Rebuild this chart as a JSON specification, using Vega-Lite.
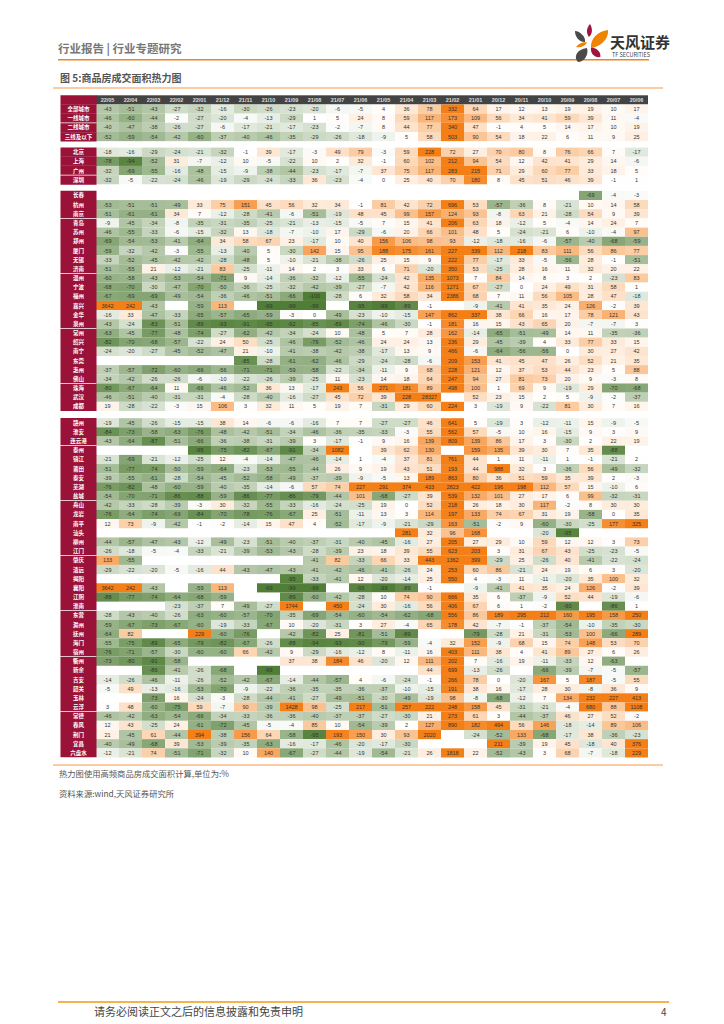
{"$schema":"https://vega.github.io/schema/vega-lite/v6.json","padding":{"left":52,"top":0,"right":0,"bottom":0},"background":"white","spacing":5.3,"config":{"view":{"stroke":null},"axis":{"title":null},"text":{"font":"Noto Sans CJK SC"},"point":{"filled":true,"opacity":1,"strokeWidth":0}},"datasets":{"months":[{"month":"22/05"},{"month":"22/04"},{"month":"22/03"},{"month":"22/02"},{"month":"22/01"},{"month":"21/12"},{"month":"21/11"},{"month":"21/10"},{"month":"21/09"},{"month":"21/08"},{"month":"21/07"},{"month":"21/06"},{"month":"21/05"},{"month":"21/04"},{"month":"21/03"},{"month":"21/02"},{"month":"21/01"},{"month":"20/12"},{"month":"20/11"},{"month":"20/10"},{"month":"20/09"},{"month":"20/08"},{"month":"20/07"},{"month":"20/06"}],
"g1":[
{"city":"全部城市","month":"22/05","value":-43},{"city":"全部城市","month":"22/04","value":-51},{"city":"全部城市","month":"22/03","value":-43},{"city":"全部城市","month":"22/02","value":-27},{"city":"全部城市","month":"22/01","value":-32},{"city":"全部城市","month":"21/12","value":-16},{"city":"全部城市","month":"21/11","value":-30},{"city":"全部城市","month":"21/10","value":-26},{"city":"全部城市","month":"21/09","value":-23},{"city":"全部城市","month":"21/08","value":-20},{"city":"全部城市","month":"21/07","value":-6},{"city":"全部城市","month":"21/06","value":-5},{"city":"全部城市","month":"21/05","value":4},{"city":"全部城市","month":"21/04","value":36},{"city":"全部城市","month":"21/03","value":78},{"city":"全部城市","month":"21/02","value":332},{"city":"全部城市","month":"21/01","value":64},{"city":"全部城市","month":"20/12","value":17},{"city":"全部城市","month":"20/11","value":12},{"city":"全部城市","month":"20/10","value":13},{"city":"全部城市","month":"20/09","value":19},{"city":"全部城市","month":"20/08","value":19},{"city":"全部城市","month":"20/07","value":10},{"city":"全部城市","month":"20/06","value":17},
{"city":"一线城市","month":"22/05","value":-46},{"city":"一线城市","month":"22/04","value":-60},{"city":"一线城市","month":"22/03","value":-44},{"city":"一线城市","month":"22/02","value":-2},{"city":"一线城市","month":"22/01","value":-27},{"city":"一线城市","month":"21/12","value":-20},{"city":"一线城市","month":"21/11","value":-4},{"city":"一线城市","month":"21/10","value":-13},{"city":"一线城市","month":"21/09","value":-29},{"city":"一线城市","month":"21/08","value":1},{"city":"一线城市","month":"21/07","value":5},{"city":"一线城市","month":"21/06","value":24},{"city":"一线城市","month":"21/05","value":8},{"city":"一线城市","month":"21/04","value":59},{"city":"一线城市","month":"21/03","value":117},{"city":"一线城市","month":"21/02","value":173},{"city":"一线城市","month":"21/01","value":109},{"city":"一线城市","month":"20/12","value":56},{"city":"一线城市","month":"20/11","value":34},{"city":"一线城市","month":"20/10","value":41},{"city":"一线城市","month":"20/09","value":59},{"city":"一线城市","month":"20/08","value":39},{"city":"一线城市","month":"20/07","value":11},{"city":"一线城市","month":"20/06","value":-4},
{"city":"二线城市","month":"22/05","value":-40},{"city":"二线城市","month":"22/04","value":-47},{"city":"二线城市","month":"22/03","value":-38},{"city":"二线城市","month":"22/02","value":-26},{"city":"二线城市","month":"22/01","value":-27},{"city":"二线城市","month":"21/12","value":-6},{"city":"二线城市","month":"21/11","value":-17},{"city":"二线城市","month":"21/10","value":-21},{"city":"二线城市","month":"21/09","value":-17},{"city":"二线城市","month":"21/08","value":-23},{"city":"二线城市","month":"21/07","value":-2},{"city":"二线城市","month":"21/06","value":-7},{"city":"二线城市","month":"21/05","value":8},{"city":"二线城市","month":"21/04","value":44},{"city":"二线城市","month":"21/03","value":77},{"city":"二线城市","month":"21/02","value":340},{"city":"二线城市","month":"21/01","value":47},{"city":"二线城市","month":"20/12","value":-1},{"city":"二线城市","month":"20/11","value":4},{"city":"二线城市","month":"20/10","value":5},{"city":"二线城市","month":"20/09","value":14},{"city":"二线城市","month":"20/08","value":17},{"city":"二线城市","month":"20/07","value":10},{"city":"二线城市","month":"20/06","value":19},
{"city":"三线及以下","month":"22/05","value":-52},{"city":"三线及以下","month":"22/04","value":-59},{"city":"三线及以下","month":"22/03","value":-54},{"city":"三线及以下","month":"22/02","value":-42},{"city":"三线及以下","month":"22/01","value":-60},{"city":"三线及以下","month":"21/12","value":-37},{"city":"三线及以下","month":"21/11","value":-40},{"city":"三线及以下","month":"21/10","value":-46},{"city":"三线及以下","month":"21/09","value":-35},{"city":"三线及以下","month":"21/08","value":-29},{"city":"三线及以下","month":"21/07","value":-26},{"city":"三线及以下","month":"21/06","value":-18},{"city":"三线及以下","month":"21/05","value":-9},{"city":"三线及以下","month":"21/04","value":5},{"city":"三线及以下","month":"21/03","value":58},{"city":"三线及以下","month":"21/02","value":503},{"city":"三线及以下","month":"21/01","value":90},{"city":"三线及以下","month":"20/12","value":54},{"city":"三线及以下","month":"20/11","value":18},{"city":"三线及以下","month":"20/10","value":22},{"city":"三线及以下","month":"20/09","value":6},{"city":"三线及以下","month":"20/08","value":11},{"city":"三线及以下","month":"20/07","value":9},{"city":"三线及以下","month":"20/06","value":25}],
"g2":[
{"city":"北京","month":"22/05","value":-18},{"city":"北京","month":"22/04","value":-16},{"city":"北京","month":"22/03","value":-29},{"city":"北京","month":"22/02","value":-24},{"city":"北京","month":"22/01","value":-21},{"city":"北京","month":"21/12","value":-32},{"city":"北京","month":"21/11","value":-1},{"city":"北京","month":"21/10","value":39},{"city":"北京","month":"21/09","value":-17},{"city":"北京","month":"21/08","value":-3},{"city":"北京","month":"21/07","value":49},{"city":"北京","month":"21/06","value":79},{"city":"北京","month":"21/05","value":-3},{"city":"北京","month":"21/04","value":59},{"city":"北京","month":"21/03","value":228},{"city":"北京","month":"21/02","value":72},{"city":"北京","month":"21/01","value":27},{"city":"北京","month":"20/12","value":70},{"city":"北京","month":"20/11","value":80},{"city":"北京","month":"20/10","value":8},{"city":"北京","month":"20/09","value":76},{"city":"北京","month":"20/08","value":66},{"city":"北京","month":"20/07","value":7},{"city":"北京","month":"20/06","value":-17},
{"city":"上海","month":"22/05","value":-78},{"city":"上海","month":"22/04","value":-94},{"city":"上海","month":"22/03","value":-52},{"city":"上海","month":"22/02","value":31},{"city":"上海","month":"22/01","value":-7},{"city":"上海","month":"21/12","value":-12},{"city":"上海","month":"21/11","value":10},{"city":"上海","month":"21/10","value":-5},{"city":"上海","month":"21/09","value":-22},{"city":"上海","month":"21/08","value":10},{"city":"上海","month":"21/07","value":2},{"city":"上海","month":"21/06","value":32},{"city":"上海","month":"21/05","value":-1},{"city":"上海","month":"21/04","value":60},{"city":"上海","month":"21/03","value":102},{"city":"上海","month":"21/02","value":212},{"city":"上海","month":"21/01","value":94},{"city":"上海","month":"20/12","value":54},{"city":"上海","month":"20/11","value":12},{"city":"上海","month":"20/10","value":42},{"city":"上海","month":"20/09","value":41},{"city":"上海","month":"20/08","value":29},{"city":"上海","month":"20/07","value":14},{"city":"上海","month":"20/06","value":-6},
{"city":"广州","month":"22/05","value":-32},{"city":"广州","month":"22/04","value":-69},{"city":"广州","month":"22/03","value":-55},{"city":"广州","month":"22/02","value":-16},{"city":"广州","month":"22/01","value":-48},{"city":"广州","month":"21/12","value":-15},{"city":"广州","month":"21/11","value":-9},{"city":"广州","month":"21/10","value":-38},{"city":"广州","month":"21/09","value":-44},{"city":"广州","month":"21/08","value":-23},{"city":"广州","month":"21/07","value":-17},{"city":"广州","month":"21/06","value":-7},{"city":"广州","month":"21/05","value":37},{"city":"广州","month":"21/04","value":75},{"city":"广州","month":"21/03","value":117},{"city":"广州","month":"21/02","value":283},{"city":"广州","month":"21/01","value":215},{"city":"广州","month":"20/12","value":71},{"city":"广州","month":"20/11","value":29},{"city":"广州","month":"20/10","value":60},{"city":"广州","month":"20/09","value":77},{"city":"广州","month":"20/08","value":33},{"city":"广州","month":"20/07","value":18},{"city":"广州","month":"20/06","value":5},
{"city":"深圳","month":"22/05","value":-32},{"city":"深圳","month":"22/04","value":-5},{"city":"深圳","month":"22/03","value":-22},{"city":"深圳","month":"22/02","value":-24},{"city":"深圳","month":"22/01","value":-46},{"city":"深圳","month":"21/12","value":-19},{"city":"深圳","month":"21/11","value":-29},{"city":"深圳","month":"21/10","value":-24},{"city":"深圳","month":"21/09","value":-33},{"city":"深圳","month":"21/08","value":36},{"city":"深圳","month":"21/07","value":-23},{"city":"深圳","month":"21/06","value":-4},{"city":"深圳","month":"21/05","value":0},{"city":"深圳","month":"21/04","value":25},{"city":"深圳","month":"21/03","value":40},{"city":"深圳","month":"21/02","value":70},{"city":"深圳","month":"21/01","value":180},{"city":"深圳","month":"20/12","value":8},{"city":"深圳","month":"20/11","value":45},{"city":"深圳","month":"20/10","value":51},{"city":"深圳","month":"20/09","value":46},{"city":"深圳","month":"20/08","value":39},{"city":"深圳","month":"20/07","value":-1},{"city":"深圳","month":"20/06","value":1}],
"g3":[
{"city":"长春","month":"20/08","value":-69},{"city":"长春","month":"20/07","value":-4},{"city":"长春","month":"20/06","value":-3},
{"city":"杭州","month":"22/05","value":-53},{"city":"杭州","month":"22/04","value":-51},{"city":"杭州","month":"22/03","value":-51},{"city":"杭州","month":"22/02","value":-49},{"city":"杭州","month":"22/01","value":33},{"city":"杭州","month":"21/12","value":75},{"city":"杭州","month":"21/11","value":151},{"city":"杭州","month":"21/10","value":45},{"city":"杭州","month":"21/09","value":56},{"city":"杭州","month":"21/08","value":32},{"city":"杭州","month":"21/07","value":34},{"city":"杭州","month":"21/06","value":-1},{"city":"杭州","month":"21/05","value":81},{"city":"杭州","month":"21/04","value":42},{"city":"杭州","month":"21/03","value":72},{"city":"杭州","month":"21/02","value":696},{"city":"杭州","month":"21/01","value":53},{"city":"杭州","month":"20/12","value":-57},{"city":"杭州","month":"20/11","value":-36},{"city":"杭州","month":"20/10","value":8},{"city":"杭州","month":"20/09","value":-21},{"city":"杭州","month":"20/08","value":10},{"city":"杭州","month":"20/07","value":14},{"city":"杭州","month":"20/06","value":58},
{"city":"南京","month":"22/05","value":-51},{"city":"南京","month":"22/04","value":-61},{"city":"南京","month":"22/03","value":-61},{"city":"南京","month":"22/02","value":34},{"city":"南京","month":"22/01","value":7},{"city":"南京","month":"21/12","value":-12},{"city":"南京","month":"21/11","value":-28},{"city":"南京","month":"21/10","value":-41},{"city":"南京","month":"21/09","value":-6},{"city":"南京","month":"21/08","value":-51},{"city":"南京","month":"21/07","value":-19},{"city":"南京","month":"21/06","value":48},{"city":"南京","month":"21/05","value":45},{"city":"南京","month":"21/04","value":99},{"city":"南京","month":"21/03","value":157},{"city":"南京","month":"21/02","value":124},{"city":"南京","month":"21/01","value":93},{"city":"南京","month":"20/12","value":-8},{"city":"南京","month":"20/11","value":63},{"city":"南京","month":"20/10","value":21},{"city":"南京","month":"20/09","value":-28},{"city":"南京","month":"20/08","value":54},{"city":"南京","month":"20/07","value":9},{"city":"南京","month":"20/06","value":39},
{"city":"青岛","month":"22/05","value":-9},{"city":"青岛","month":"22/04","value":-45},{"city":"青岛","month":"22/03","value":-34},{"city":"青岛","month":"22/02","value":-8},{"city":"青岛","month":"22/01","value":-35},{"city":"青岛","month":"21/12","value":-31},{"city":"青岛","month":"21/11","value":-35},{"city":"青岛","month":"21/10","value":-25},{"city":"青岛","month":"21/09","value":-21},{"city":"青岛","month":"21/08","value":-13},{"city":"青岛","month":"21/07","value":-15},{"city":"青岛","month":"21/06","value":-5},{"city":"青岛","month":"21/05","value":7},{"city":"青岛","month":"21/04","value":15},{"city":"青岛","month":"21/03","value":41},{"city":"青岛","month":"21/02","value":206},{"city":"青岛","month":"21/01","value":63},{"city":"青岛","month":"20/12","value":18},{"city":"青岛","month":"20/11","value":-12},{"city":"青岛","month":"20/10","value":5},{"city":"青岛","month":"20/09","value":-4},{"city":"青岛","month":"20/08","value":14},{"city":"青岛","month":"20/07","value":24},{"city":"青岛","month":"20/06","value":7},
{"city":"苏州","month":"22/05","value":-46},{"city":"苏州","month":"22/04","value":-55},{"city":"苏州","month":"22/03","value":-33},{"city":"苏州","month":"22/02","value":-6},{"city":"苏州","month":"22/01","value":-15},{"city":"苏州","month":"21/12","value":-32},{"city":"苏州","month":"21/11","value":13},{"city":"苏州","month":"21/10","value":-18},{"city":"苏州","month":"21/09","value":-7},{"city":"苏州","month":"21/08","value":-10},{"city":"苏州","month":"21/07","value":17},{"city":"苏州","month":"21/06","value":-29},{"city":"苏州","month":"21/05","value":-6},{"city":"苏州","month":"21/04","value":20},{"city":"苏州","month":"21/03","value":66},{"city":"苏州","month":"21/02","value":101},{"city":"苏州","month":"21/01","value":48},{"city":"苏州","month":"20/12","value":5},{"city":"苏州","month":"20/11","value":-24},{"city":"苏州","month":"20/10","value":-21},{"city":"苏州","month":"20/09","value":6},{"city":"苏州","month":"20/08","value":-10},{"city":"苏州","month":"20/07","value":-4},{"city":"苏州","month":"20/06","value":97},
{"city":"郑州","month":"22/05","value":-69},{"city":"郑州","month":"22/04","value":-54},{"city":"郑州","month":"22/03","value":-53},{"city":"郑州","month":"22/02","value":-41},{"city":"郑州","month":"22/01","value":-64},{"city":"郑州","month":"21/12","value":34},{"city":"郑州","month":"21/11","value":58},{"city":"郑州","month":"21/10","value":67},{"city":"郑州","month":"21/09","value":23},{"city":"郑州","month":"21/08","value":-17},{"city":"郑州","month":"21/07","value":10},{"city":"郑州","month":"21/06","value":40},{"city":"郑州","month":"21/05","value":156},{"city":"郑州","month":"21/04","value":106},{"city":"郑州","month":"21/03","value":98},{"city":"郑州","month":"21/02","value":93},{"city":"郑州","month":"21/01","value":-12},{"city":"郑州","month":"20/12","value":-18},{"city":"郑州","month":"20/11","value":-16},{"city":"郑州","month":"20/10","value":-6},{"city":"郑州","month":"20/09","value":-57},{"city":"郑州","month":"20/08","value":-40},{"city":"郑州","month":"20/07","value":-68},{"city":"郑州","month":"20/06","value":-59},
{"city":"厦门","month":"22/05","value":-59},{"city":"厦门","month":"22/04","value":-32},{"city":"厦门","month":"22/03","value":-42},{"city":"厦门","month":"22/02","value":-3},{"city":"厦门","month":"22/01","value":-55},{"city":"厦门","month":"21/12","value":-13},{"city":"厦门","month":"21/11","value":-40},{"city":"厦门","month":"21/10","value":5},{"city":"厦门","month":"21/09","value":-30},{"city":"厦门","month":"21/08","value":142},{"city":"厦门","month":"21/07","value":15},{"city":"厦门","month":"21/06","value":95},{"city":"厦门","month":"21/05","value":188},{"city":"厦门","month":"21/04","value":175},{"city":"厦门","month":"21/03","value":161},{"city":"厦门","month":"21/02","value":227},{"city":"厦门","month":"21/01","value":339},{"city":"厦门","month":"20/12","value":112},{"city":"厦门","month":"20/11","value":218},{"city":"厦门","month":"20/10","value":83},{"city":"厦门","month":"20/09","value":111},{"city":"厦门","month":"20/08","value":56},{"city":"厦门","month":"20/07","value":86},{"city":"厦门","month":"20/06","value":77},
{"city":"无锡","month":"22/05","value":-33},{"city":"无锡","month":"22/04","value":-52},{"city":"无锡","month":"22/03","value":-45},{"city":"无锡","month":"22/02","value":-42},{"city":"无锡","month":"22/01","value":-42},{"city":"无锡","month":"21/12","value":-28},{"city":"无锡","month":"21/11","value":-48},{"city":"无锡","month":"21/10","value":5},{"city":"无锡","month":"21/09","value":-10},{"city":"无锡","month":"21/08","value":-21},{"city":"无锡","month":"21/07","value":-38},{"city":"无锡","month":"21/06","value":-26},{"city":"无锡","month":"21/05","value":25},{"city":"无锡","month":"21/04","value":15},{"city":"无锡","month":"21/03","value":9},{"city":"无锡","month":"21/02","value":222},{"city":"无锡","month":"21/01","value":77},{"city":"无锡","month":"20/12","value":-17},{"city":"无锡","month":"20/11","value":33},{"city":"无锡","month":"20/10","value":-5},{"city":"无锡","month":"20/09","value":-56},{"city":"无锡","month":"20/08","value":28},{"city":"无锡","month":"20/07","value":-1},{"city":"无锡","month":"20/06","value":-51},
{"city":"济南","month":"22/05","value":-51},{"city":"济南","month":"22/04","value":-55},{"city":"济南","month":"22/03","value":21},{"city":"济南","month":"22/02","value":-12},{"city":"济南","month":"22/01","value":-21},{"city":"济南","month":"21/12","value":83},{"city":"济南","month":"21/11","value":-25},{"city":"济南","month":"21/10","value":-11},{"city":"济南","month":"21/09","value":14},{"city":"济南","month":"21/08","value":2},{"city":"济南","month":"21/07","value":3},{"city":"济南","month":"21/06","value":33},{"city":"济南","month":"21/05","value":6},{"city":"济南","month":"21/04","value":71},{"city":"济南","month":"21/03","value":-20},{"city":"济南","month":"21/02","value":350},{"city":"济南","month":"21/01","value":53},{"city":"济南","month":"20/12","value":-25},{"city":"济南","month":"20/11","value":28},{"city":"济南","month":"20/10","value":16},{"city":"济南","month":"20/09","value":11},{"city":"济南","month":"20/08","value":32},{"city":"济南","month":"20/07","value":20},{"city":"济南","month":"20/06","value":22},
{"city":"温州","month":"22/05","value":-60},{"city":"温州","month":"22/04","value":-58},{"city":"温州","month":"22/03","value":-43},{"city":"温州","month":"22/02","value":-53},{"city":"温州","month":"22/01","value":-54},{"city":"温州","month":"21/12","value":-71},{"city":"温州","month":"21/11","value":9},{"city":"温州","month":"21/10","value":-14},{"city":"温州","month":"21/09","value":-36},{"city":"温州","month":"21/08","value":-32},{"city":"温州","month":"21/07","value":-12},{"city":"温州","month":"21/06","value":-55},{"city":"温州","month":"21/05","value":-24},{"city":"温州","month":"21/04","value":42},{"city":"温州","month":"21/03","value":135},{"city":"温州","month":"21/02","value":1073},{"city":"温州","month":"21/01","value":7},{"city":"温州","month":"20/12","value":84},{"city":"温州","month":"20/11","value":14},{"city":"温州","month":"20/10","value":8},{"city":"温州","month":"20/09","value":3},{"city":"温州","month":"20/08","value":2},{"city":"温州","month":"20/07","value":-23},{"city":"温州","month":"20/06","value":83},
{"city":"宁波","month":"22/05","value":-68},{"city":"宁波","month":"22/04","value":-70},{"city":"宁波","month":"22/03","value":-30},{"city":"宁波","month":"22/02","value":-47},{"city":"宁波","month":"22/01","value":-70},{"city":"宁波","month":"21/12","value":-50},{"city":"宁波","month":"21/11","value":-36},{"city":"宁波","month":"21/10","value":-25},{"city":"宁波","month":"21/09","value":-32},{"city":"宁波","month":"21/08","value":-42},{"city":"宁波","month":"21/07","value":-39},{"city":"宁波","month":"21/06","value":-27},{"city":"宁波","month":"21/05","value":-7},{"city":"宁波","month":"21/04","value":42},{"city":"宁波","month":"21/03","value":116},{"city":"宁波","month":"21/02","value":1271},{"city":"宁波","month":"21/01","value":67},{"city":"宁波","month":"20/12","value":-27},{"city":"宁波","month":"20/11","value":0},{"city":"宁波","month":"20/10","value":24},{"city":"宁波","month":"20/09","value":49},{"city":"宁波","month":"20/08","value":31},{"city":"宁波","month":"20/07","value":58},{"city":"宁波","month":"20/06","value":1},
{"city":"福州","month":"22/05","value":-67},{"city":"福州","month":"22/04","value":-69},{"city":"福州","month":"22/03","value":-69},{"city":"福州","month":"22/02","value":-49},{"city":"福州","month":"22/01","value":-54},{"city":"福州","month":"21/12","value":-36},{"city":"福州","month":"21/11","value":-46},{"city":"福州","month":"21/10","value":-51},{"city":"福州","month":"21/09","value":-66},{"city":"福州","month":"21/08","value":-100},{"city":"福州","month":"21/07","value":-28},{"city":"福州","month":"21/06","value":6},{"city":"福州","month":"21/05","value":32},{"city":"福州","month":"21/04","value":58},{"city":"福州","month":"21/03","value":34},{"city":"福州","month":"21/02","value":2386},{"city":"福州","month":"21/01","value":68},{"city":"福州","month":"20/12","value":7},{"city":"福州","month":"20/11","value":11},{"city":"福州","month":"20/10","value":56},{"city":"福州","month":"20/09","value":105},{"city":"福州","month":"20/08","value":28},{"city":"福州","month":"20/07","value":47},{"city":"福州","month":"20/06","value":-18},
{"city":"嘉兴","month":"22/05","value":3642},{"city":"嘉兴","month":"22/04","value":242},{"city":"嘉兴","month":"22/03","value":-43},{"city":"嘉兴","month":"22/01","value":-59},{"city":"嘉兴","month":"21/12","value":113},{"city":"嘉兴","month":"21/10","value":-99},{"city":"嘉兴","month":"21/09","value":-99},{"city":"嘉兴","month":"21/08","value":-99},{"city":"嘉兴","month":"21/06","value":-95},{"city":"嘉兴","month":"21/05","value":-99},{"city":"嘉兴","month":"21/04","value":-89},{"city":"嘉兴","month":"21/03","value":-1},{"city":"嘉兴","month":"21/01","value":-9},{"city":"嘉兴","month":"20/12","value":-41},{"city":"嘉兴","month":"20/11","value":41},{"city":"嘉兴","month":"20/10","value":35},{"city":"嘉兴","month":"20/09","value":24},{"city":"嘉兴","month":"20/08","value":126},{"city":"嘉兴","month":"20/07","value":-2},{"city":"嘉兴","month":"20/06","value":39},
{"city":"金华","month":"22/05","value":-16},{"city":"金华","month":"22/04","value":33},{"city":"金华","month":"22/03","value":-47},{"city":"金华","month":"22/02","value":-33},{"city":"金华","month":"22/01","value":-65},{"city":"金华","month":"21/12","value":-57},{"city":"金华","month":"21/11","value":-65},{"city":"金华","month":"21/10","value":-59},{"city":"金华","month":"21/09","value":-3},{"city":"金华","month":"21/08","value":0},{"city":"金华","month":"21/07","value":-49},{"city":"金华","month":"21/06","value":-23},{"city":"金华","month":"21/05","value":-10},{"city":"金华","month":"21/04","value":-15},{"city":"金华","month":"21/03","value":147},{"city":"金华","month":"21/02","value":862},{"city":"金华","month":"21/01","value":337},{"city":"金华","month":"20/12","value":38},{"city":"金华","month":"20/11","value":66},{"city":"金华","month":"20/10","value":16},{"city":"金华","month":"20/09","value":17},{"city":"金华","month":"20/08","value":78},{"city":"金华","month":"20/07","value":121},{"city":"金华","month":"20/06","value":43},
{"city":"泉州","month":"22/05","value":-43},{"city":"泉州","month":"22/04","value":-24},{"city":"泉州","month":"22/03","value":-83},{"city":"泉州","month":"22/02","value":-51},{"city":"泉州","month":"22/01","value":-89},{"city":"泉州","month":"21/12","value":-93},{"city":"泉州","month":"21/11","value":-91},{"city":"泉州","month":"21/10","value":-95},{"city":"泉州","month":"21/09","value":-92},{"city":"泉州","month":"21/08","value":-85},{"city":"泉州","month":"21/07","value":-89},{"city":"泉州","month":"21/06","value":-74},{"city":"泉州","month":"21/05","value":-46},{"city":"泉州","month":"21/04","value":-30},{"city":"泉州","month":"21/03","value":-1},{"city":"泉州","month":"21/02","value":181},{"city":"泉州","month":"21/01","value":16},{"city":"泉州","month":"20/12","value":15},{"city":"泉州","month":"20/11","value":43},{"city":"泉州","month":"20/10","value":65},{"city":"泉州","month":"20/09","value":20},{"city":"泉州","month":"20/08","value":-7},{"city":"泉州","month":"20/07","value":-7},{"city":"泉州","month":"20/06","value":3},
{"city":"常州","month":"22/05","value":-63},{"city":"常州","month":"22/04","value":-45},{"city":"常州","month":"22/03","value":-77},{"city":"常州","month":"22/02","value":-48},{"city":"常州","month":"22/01","value":-74},{"city":"常州","month":"21/12","value":-27},{"city":"常州","month":"21/11","value":-62},{"city":"常州","month":"21/10","value":-42},{"city":"常州","month":"21/09","value":-34},{"city":"常州","month":"21/08","value":-24},{"city":"常州","month":"21/07","value":10},{"city":"常州","month":"21/06","value":-48},{"city":"常州","month":"21/05","value":5},{"city":"常州","month":"21/04","value":7},{"city":"常州","month":"21/03","value":28},{"city":"常州","month":"21/02","value":162},{"city":"常州","month":"21/01","value":-14},{"city":"常州","month":"20/12","value":-65},{"city":"常州","month":"20/11","value":-51},{"city":"常州","month":"20/10","value":-49},{"city":"常州","month":"20/09","value":14},{"city":"常州","month":"20/08","value":11},{"city":"常州","month":"20/07","value":-35},{"city":"常州","month":"20/06","value":-36},
{"city":"绍兴","month":"22/05","value":-82},{"city":"绍兴","month":"22/04","value":-70},{"city":"绍兴","month":"22/03","value":-68},{"city":"绍兴","month":"22/02","value":-57},{"city":"绍兴","month":"22/01","value":-22},{"city":"绍兴","month":"21/12","value":24},{"city":"绍兴","month":"21/11","value":50},{"city":"绍兴","month":"21/10","value":-25},{"city":"绍兴","month":"21/09","value":-46},{"city":"绍兴","month":"21/08","value":-76},{"city":"绍兴","month":"21/07","value":-52},{"city":"绍兴","month":"21/06","value":-46},{"city":"绍兴","month":"21/05","value":24},{"city":"绍兴","month":"21/04","value":24},{"city":"绍兴","month":"21/03","value":13},{"city":"绍兴","month":"21/02","value":236},{"city":"绍兴","month":"21/01","value":29},{"city":"绍兴","month":"20/12","value":-45},{"city":"绍兴","month":"20/11","value":-39},{"city":"绍兴","month":"20/10","value":4},{"city":"绍兴","month":"20/09","value":33},{"city":"绍兴","month":"20/08","value":77},{"city":"绍兴","month":"20/07","value":33},{"city":"绍兴","month":"20/06","value":15},
{"city":"南宁","month":"22/05","value":-24},{"city":"南宁","month":"22/04","value":-20},{"city":"南宁","month":"22/03","value":-27},{"city":"南宁","month":"22/02","value":-45},{"city":"南宁","month":"22/01","value":-52},{"city":"南宁","month":"21/12","value":-47},{"city":"南宁","month":"21/11","value":21},{"city":"南宁","month":"21/10","value":-10},{"city":"南宁","month":"21/09","value":-41},{"city":"南宁","month":"21/08","value":-38},{"city":"南宁","month":"21/07","value":-42},{"city":"南宁","month":"21/06","value":-38},{"city":"南宁","month":"21/05","value":-17},{"city":"南宁","month":"21/04","value":13},{"city":"南宁","month":"21/03","value":9},{"city":"南宁","month":"21/02","value":466},{"city":"南宁","month":"21/01","value":-6},{"city":"南宁","month":"20/12","value":-64},{"city":"南宁","month":"20/11","value":-56},{"city":"南宁","month":"20/10","value":-56},{"city":"南宁","month":"20/09","value":0},{"city":"南宁","month":"20/08","value":30},{"city":"南宁","month":"20/07","value":27},{"city":"南宁","month":"20/06","value":42},
{"city":"东莞","month":"21/11","value":-85},{"city":"东莞","month":"21/10","value":-28},{"city":"东莞","month":"21/09","value":-61},{"city":"东莞","month":"21/08","value":-62},{"city":"东莞","month":"21/07","value":-46},{"city":"东莞","month":"21/06","value":-29},{"city":"东莞","month":"21/05","value":-24},{"city":"东莞","month":"21/04","value":-28},{"city":"东莞","month":"21/03","value":-6},{"city":"东莞","month":"21/02","value":209},{"city":"东莞","month":"21/01","value":153},{"city":"东莞","month":"20/12","value":41},{"city":"东莞","month":"20/11","value":45},{"city":"东莞","month":"20/10","value":47},{"city":"东莞","month":"20/09","value":26},{"city":"东莞","month":"20/08","value":52},{"city":"东莞","month":"20/07","value":21},{"city":"东莞","month":"20/06","value":35},
{"city":"惠州","month":"22/05","value":-37},{"city":"惠州","month":"22/04","value":-57},{"city":"惠州","month":"22/03","value":-72},{"city":"惠州","month":"22/02","value":-60},{"city":"惠州","month":"22/01","value":-66},{"city":"惠州","month":"21/12","value":-56},{"city":"惠州","month":"21/11","value":-71},{"city":"惠州","month":"21/10","value":-71},{"city":"惠州","month":"21/09","value":-59},{"city":"惠州","month":"21/08","value":-58},{"city":"惠州","month":"21/07","value":-22},{"city":"惠州","month":"21/06","value":-34},{"city":"惠州","month":"21/05","value":-11},{"city":"惠州","month":"21/04","value":9},{"city":"惠州","month":"21/03","value":68},{"city":"惠州","month":"21/02","value":228},{"city":"惠州","month":"21/01","value":121},{"city":"惠州","month":"20/12","value":12},{"city":"惠州","month":"20/11","value":37},{"city":"惠州","month":"20/10","value":53},{"city":"惠州","month":"20/09","value":44},{"city":"惠州","month":"20/08","value":23},{"city":"惠州","month":"20/07","value":5},{"city":"惠州","month":"20/06","value":88},
{"city":"佛山","month":"22/05","value":-34},{"city":"佛山","month":"22/04","value":-42},{"city":"佛山","month":"22/03","value":-26},{"city":"佛山","month":"22/02","value":-26},{"city":"佛山","month":"22/01","value":-6},{"city":"佛山","month":"21/12","value":-10},{"city":"佛山","month":"21/11","value":-22},{"city":"佛山","month":"21/10","value":-26},{"city":"佛山","month":"21/09","value":-39},{"city":"佛山","month":"21/08","value":-25},{"city":"佛山","month":"21/07","value":11},{"city":"佛山","month":"21/06","value":-23},{"city":"佛山","month":"21/05","value":14},{"city":"佛山","month":"21/04","value":18},{"city":"佛山","month":"21/03","value":64},{"city":"佛山","month":"21/02","value":247},{"city":"佛山","month":"21/01","value":94},{"city":"佛山","month":"20/12","value":27},{"city":"佛山","month":"20/11","value":81},{"city":"佛山","month":"20/10","value":73},{"city":"佛山","month":"20/09","value":20},{"city":"佛山","month":"20/08","value":9},{"city":"佛山","month":"20/07","value":-3},{"city":"佛山","month":"20/06","value":8},
{"city":"珠海","month":"22/05","value":-80},{"city":"珠海","month":"22/04","value":-67},{"city":"珠海","month":"22/03","value":-64},{"city":"珠海","month":"22/02","value":11},{"city":"珠海","month":"22/01","value":-66},{"city":"珠海","month":"21/12","value":-46},{"city":"珠海","month":"21/11","value":-52},{"city":"珠海","month":"21/10","value":36},{"city":"珠海","month":"21/09","value":13},{"city":"珠海","month":"21/08","value":-17},{"city":"珠海","month":"21/07","value":243},{"city":"珠海","month":"21/06","value":56},{"city":"珠海","month":"21/05","value":271},{"city":"珠海","month":"21/04","value":181},{"city":"珠海","month":"21/03","value":89},{"city":"珠海","month":"21/02","value":498},{"city":"珠海","month":"21/01","value":100},{"city":"珠海","month":"20/12","value":1},{"city":"珠海","month":"20/11","value":69},{"city":"珠海","month":"20/10","value":9},{"city":"珠海","month":"20/09","value":-19},{"city":"珠海","month":"20/08","value":29},{"city":"珠海","month":"20/07","value":-70},{"city":"珠海","month":"20/06","value":-68},
{"city":"武汉","month":"22/05","value":-46},{"city":"武汉","month":"22/04","value":-51},{"city":"武汉","month":"22/03","value":-40},{"city":"武汉","month":"22/02","value":-31},{"city":"武汉","month":"22/01","value":-31},{"city":"武汉","month":"21/12","value":-4},{"city":"武汉","month":"21/11","value":-28},{"city":"武汉","month":"21/10","value":-40},{"city":"武汉","month":"21/09","value":-16},{"city":"武汉","month":"21/08","value":-27},{"city":"武汉","month":"21/07","value":45},{"city":"武汉","month":"21/06","value":72},{"city":"武汉","month":"21/05","value":39},{"city":"武汉","month":"21/04","value":228},{"city":"武汉","month":"21/03","value":28327},{"city":"武汉","month":"21/01","value":52},{"city":"武汉","month":"20/12","value":23},{"city":"武汉","month":"20/11","value":15},{"city":"武汉","month":"20/10","value":2},{"city":"武汉","month":"20/09","value":5},{"city":"武汉","month":"20/08","value":-9},{"city":"武汉","month":"20/07","value":-2},{"city":"武汉","month":"20/06","value":-37},
{"city":"成都","month":"22/05","value":19},{"city":"成都","month":"22/04","value":-28},{"city":"成都","month":"22/03","value":-22},{"city":"成都","month":"22/02","value":-3},{"city":"成都","month":"22/01","value":15},{"city":"成都","month":"21/12","value":106},{"city":"成都","month":"21/11","value":3},{"city":"成都","month":"21/10","value":32},{"city":"成都","month":"21/09","value":11},{"city":"成都","month":"21/08","value":5},{"city":"成都","month":"21/07","value":19},{"city":"成都","month":"21/06","value":7},{"city":"成都","month":"21/05","value":-31},{"city":"成都","month":"21/04","value":29},{"city":"成都","month":"21/03","value":60},{"city":"成都","month":"21/02","value":224},{"city":"成都","month":"21/01","value":3},{"city":"成都","month":"20/12","value":-19},{"city":"成都","month":"20/11","value":9},{"city":"成都","month":"20/10","value":-22},{"city":"成都","month":"20/09","value":81},{"city":"成都","month":"20/08","value":30},{"city":"成都","month":"20/07","value":7},{"city":"成都","month":"20/06","value":16}],
"g4":[
{"city":"赣州","month":"22/05","value":-19},{"city":"赣州","month":"22/04","value":-45},{"city":"赣州","month":"22/03","value":-26},{"city":"赣州","month":"22/02","value":-15},{"city":"赣州","month":"22/01","value":-15},{"city":"赣州","month":"21/12","value":38},{"city":"赣州","month":"21/11","value":14},{"city":"赣州","month":"21/10","value":-6},{"city":"赣州","month":"21/09","value":-6},{"city":"赣州","month":"21/08","value":-16},{"city":"赣州","month":"21/07","value":7},{"city":"赣州","month":"21/06","value":7},{"city":"赣州","month":"21/05","value":-27},{"city":"赣州","month":"21/04","value":-27},{"city":"赣州","month":"21/03","value":46},{"city":"赣州","month":"21/02","value":641},{"city":"赣州","month":"21/01","value":5},{"city":"赣州","month":"20/12","value":-19},{"city":"赣州","month":"20/11","value":3},{"city":"赣州","month":"20/10","value":-12},{"city":"赣州","month":"20/09","value":-11},{"city":"赣州","month":"20/08","value":15},{"city":"赣州","month":"20/07","value":-9},{"city":"赣州","month":"20/06","value":-5},
{"city":"淮安","month":"22/05","value":-84},{"city":"淮安","month":"22/04","value":-73},{"city":"淮安","month":"22/03","value":-58},{"city":"淮安","month":"22/02","value":-63},{"city":"淮安","month":"22/01","value":-76},{"city":"淮安","month":"21/12","value":-48},{"city":"淮安","month":"21/11","value":-42},{"city":"淮安","month":"21/10","value":-51},{"city":"淮安","month":"21/09","value":-34},{"city":"淮安","month":"21/08","value":-46},{"city":"淮安","month":"21/07","value":-36},{"city":"淮安","month":"21/06","value":-35},{"city":"淮安","month":"21/05","value":-33},{"city":"淮安","month":"21/04","value":-3},{"city":"淮安","month":"21/03","value":55},{"city":"淮安","month":"21/02","value":562},{"city":"淮安","month":"21/01","value":57},{"city":"淮安","month":"20/12","value":-5},{"city":"淮安","month":"20/11","value":10},{"city":"淮安","month":"20/10","value":16},{"city":"淮安","month":"20/09","value":-15},{"city":"淮安","month":"20/08","value":9},{"city":"淮安","month":"20/07","value":3},{"city":"淮安","month":"20/06","value":9},
{"city":"连云港","month":"22/05","value":-43},{"city":"连云港","month":"22/04","value":-64},{"city":"连云港","month":"22/03","value":-87},{"city":"连云港","month":"22/02","value":-51},{"city":"连云港","month":"22/01","value":-66},{"city":"连云港","month":"21/12","value":-36},{"city":"连云港","month":"21/11","value":-38},{"city":"连云港","month":"21/10","value":-31},{"city":"连云港","month":"21/09","value":-39},{"city":"连云港","month":"21/08","value":3},{"city":"连云港","month":"21/07","value":-17},{"city":"连云港","month":"21/06","value":-1},{"city":"连云港","month":"21/05","value":9},{"city":"连云港","month":"21/04","value":16},{"city":"连云港","month":"21/03","value":139},{"city":"连云港","month":"21/02","value":809},{"city":"连云港","month":"21/01","value":139},{"city":"连云港","month":"20/12","value":86},{"city":"连云港","month":"20/11","value":17},{"city":"连云港","month":"20/10","value":3},{"city":"连云港","month":"20/09","value":-30},{"city":"连云港","month":"20/08","value":2},{"city":"连云港","month":"20/07","value":22},{"city":"连云港","month":"20/06","value":19},
{"city":"泰州","month":"22/01","value":-95},{"city":"泰州","month":"21/12","value":-75},{"city":"泰州","month":"21/11","value":-82},{"city":"泰州","month":"21/10","value":-67},{"city":"泰州","month":"21/09","value":-91},{"city":"泰州","month":"21/08","value":-34},{"city":"泰州","month":"21/07","value":1082},{"city":"泰州","month":"21/05","value":39},{"city":"泰州","month":"21/04","value":62},{"city":"泰州","month":"21/03","value":130},{"city":"泰州","month":"21/01","value":159},{"city":"泰州","month":"20/12","value":135},{"city":"泰州","month":"20/11","value":39},{"city":"泰州","month":"20/10","value":30},{"city":"泰州","month":"20/09","value":7},{"city":"泰州","month":"20/08","value":35},{"city":"泰州","month":"20/07","value":-88},
{"city":"镇江","month":"22/05","value":-21},{"city":"镇江","month":"22/04","value":-69},{"city":"镇江","month":"22/03","value":-21},{"city":"镇江","month":"22/02","value":-12},{"city":"镇江","month":"22/01","value":-25},{"city":"镇江","month":"21/12","value":12},{"city":"镇江","month":"21/11","value":-4},{"city":"镇江","month":"21/10","value":-14},{"city":"镇江","month":"21/09","value":-47},{"city":"镇江","month":"21/08","value":-46},{"city":"镇江","month":"21/07","value":-14},{"city":"镇江","month":"21/06","value":1},{"city":"镇江","month":"21/05","value":-4},{"city":"镇江","month":"21/04","value":37},{"city":"镇江","month":"21/03","value":81},{"city":"镇江","month":"21/02","value":761},{"city":"镇江","month":"21/01","value":44},{"city":"镇江","month":"20/12","value":1},{"city":"镇江","month":"20/11","value":11},{"city":"镇江","month":"20/10","value":-11},{"city":"镇江","month":"20/09","value":1},{"city":"镇江","month":"20/08","value":-1},{"city":"镇江","month":"20/07","value":-21},{"city":"镇江","month":"20/06","value":2},
{"city":"莆田","month":"22/05","value":-51},{"city":"莆田","month":"22/04","value":-77},{"city":"莆田","month":"22/03","value":-74},{"city":"莆田","month":"22/02","value":-50},{"city":"莆田","month":"22/01","value":-59},{"city":"莆田","month":"21/12","value":-64},{"city":"莆田","month":"21/11","value":-23},{"city":"莆田","month":"21/10","value":-53},{"city":"莆田","month":"21/09","value":-55},{"city":"莆田","month":"21/08","value":-44},{"city":"莆田","month":"21/07","value":26},{"city":"莆田","month":"21/06","value":9},{"city":"莆田","month":"21/05","value":19},{"city":"莆田","month":"21/04","value":43},{"city":"莆田","month":"21/03","value":51},{"city":"莆田","month":"21/02","value":193},{"city":"莆田","month":"21/01","value":44},{"city":"莆田","month":"20/12","value":988},{"city":"莆田","month":"20/11","value":32},{"city":"莆田","month":"20/10","value":3},{"city":"莆田","month":"20/09","value":-36},{"city":"莆田","month":"20/08","value":56},{"city":"莆田","month":"20/07","value":-49},{"city":"莆田","month":"20/06","value":-32},
{"city":"泰安","month":"22/05","value":-39},{"city":"泰安","month":"22/04","value":-55},{"city":"泰安","month":"22/03","value":-61},{"city":"泰安","month":"22/02","value":-28},{"city":"泰安","month":"22/01","value":-54},{"city":"泰安","month":"21/12","value":-45},{"city":"泰安","month":"21/11","value":-52},{"city":"泰安","month":"21/10","value":-58},{"city":"泰安","month":"21/09","value":-49},{"city":"泰安","month":"21/08","value":-37},{"city":"泰安","month":"21/07","value":-39},{"city":"泰安","month":"21/06","value":-9},{"city":"泰安","month":"21/05","value":-5},{"city":"泰安","month":"21/04","value":13},{"city":"泰安","month":"21/03","value":189},{"city":"泰安","month":"21/02","value":863},{"city":"泰安","month":"21/01","value":80},{"city":"泰安","month":"20/12","value":36},{"city":"泰安","month":"20/11","value":51},{"city":"泰安","month":"20/10","value":59},{"city":"泰安","month":"20/09","value":35},{"city":"泰安","month":"20/08","value":39},{"city":"泰安","month":"20/07","value":2},{"city":"泰安","month":"20/06","value":-3},
{"city":"芜湖","month":"22/05","value":-76},{"city":"芜湖","month":"22/04","value":-82},{"city":"芜湖","month":"22/03","value":-48},{"city":"芜湖","month":"22/02","value":-60},{"city":"芜湖","month":"22/01","value":-59},{"city":"芜湖","month":"21/12","value":-40},{"city":"芜湖","month":"21/11","value":-35},{"city":"芜湖","month":"21/10","value":-14},{"city":"芜湖","month":"21/09","value":-6},{"city":"芜湖","month":"21/08","value":57},{"city":"芜湖","month":"21/07","value":74},{"city":"芜湖","month":"21/06","value":227},{"city":"芜湖","month":"21/05","value":291},{"city":"芜湖","month":"21/04","value":374},{"city":"芜湖","month":"21/03","value":433},{"city":"芜湖","month":"21/02","value":2823},{"city":"芜湖","month":"21/01","value":422},{"city":"芜湖","month":"20/12","value":196},{"city":"芜湖","month":"20/11","value":198},{"city":"芜湖","month":"20/10","value":112},{"city":"芜湖","month":"20/09","value":57},{"city":"芜湖","month":"20/08","value":15},{"city":"芜湖","month":"20/07","value":-10},{"city":"芜湖","month":"20/06","value":6},
{"city":"盐城","month":"22/05","value":-54},{"city":"盐城","month":"22/04","value":-70},{"city":"盐城","month":"22/03","value":-71},{"city":"盐城","month":"22/02","value":-86},{"city":"盐城","month":"22/01","value":-88},{"city":"盐城","month":"21/12","value":-59},{"city":"盐城","month":"21/11","value":-86},{"city":"盐城","month":"21/10","value":-77},{"city":"盐城","month":"21/09","value":-86},{"city":"盐城","month":"21/08","value":-79},{"city":"盐城","month":"21/07","value":-44},{"city":"盐城","month":"21/06","value":101},{"city":"盐城","month":"21/05","value":-68},{"city":"盐城","month":"21/04","value":-27},{"city":"盐城","month":"21/03","value":39},{"city":"盐城","month":"21/02","value":539},{"city":"盐城","month":"21/01","value":132},{"city":"盐城","month":"20/12","value":101},{"city":"盐城","month":"20/11","value":27},{"city":"盐城","month":"20/10","value":17},{"city":"盐城","month":"20/09","value":6},{"city":"盐城","month":"20/08","value":99},{"city":"盐城","month":"20/07","value":-32},{"city":"盐城","month":"20/06","value":-31},
{"city":"舟山","month":"22/05","value":-42},{"city":"舟山","month":"22/04","value":-33},{"city":"舟山","month":"22/03","value":-28},{"city":"舟山","month":"22/02","value":-39},{"city":"舟山","month":"22/01","value":-3},{"city":"舟山","month":"21/12","value":30},{"city":"舟山","month":"21/11","value":-32},{"city":"舟山","month":"21/10","value":-55},{"city":"舟山","month":"21/09","value":-33},{"city":"舟山","month":"21/08","value":-16},{"city":"舟山","month":"21/07","value":-24},{"city":"舟山","month":"21/06","value":-25},{"city":"舟山","month":"21/05","value":19},{"city":"舟山","month":"21/04","value":0},{"city":"舟山","month":"21/03","value":52},{"city":"舟山","month":"21/02","value":218},{"city":"舟山","month":"21/01","value":26},{"city":"舟山","month":"20/12","value":18},{"city":"舟山","month":"20/11","value":30},{"city":"舟山","month":"20/10","value":117},{"city":"舟山","month":"20/09","value":-2},{"city":"舟山","month":"20/08","value":8},{"city":"舟山","month":"20/07","value":30},{"city":"舟山","month":"20/06","value":30},
{"city":"龙岩","month":"22/05","value":-76},{"city":"龙岩","month":"22/04","value":-64},{"city":"龙岩","month":"22/03","value":-74},{"city":"龙岩","month":"22/02","value":-69},{"city":"龙岩","month":"22/01","value":-84},{"city":"龙岩","month":"21/12","value":-70},{"city":"龙岩","month":"21/11","value":-78},{"city":"龙岩","month":"21/10","value":-76},{"city":"龙岩","month":"21/09","value":-67},{"city":"龙岩","month":"21/08","value":25},{"city":"龙岩","month":"21/07","value":-51},{"city":"龙岩","month":"21/06","value":-11},{"city":"龙岩","month":"21/05","value":13},{"city":"龙岩","month":"21/04","value":3},{"city":"龙岩","month":"21/03","value":114},{"city":"龙岩","month":"21/02","value":197},{"city":"龙岩","month":"21/01","value":133},{"city":"龙岩","month":"20/12","value":74},{"city":"龙岩","month":"20/11","value":67},{"city":"龙岩","month":"20/10","value":31},{"city":"龙岩","month":"20/09","value":19},{"city":"龙岩","month":"20/08","value":-58},{"city":"龙岩","month":"20/07","value":0},{"city":"龙岩","month":"20/06","value":35},
{"city":"南平","month":"22/05","value":12},{"city":"南平","month":"22/04","value":73},{"city":"南平","month":"22/03","value":-9},{"city":"南平","month":"22/02","value":-42},{"city":"南平","month":"22/01","value":-1},{"city":"南平","month":"21/12","value":-2},{"city":"南平","month":"21/11","value":-14},{"city":"南平","month":"21/10","value":15},{"city":"南平","month":"21/09","value":47},{"city":"南平","month":"21/08","value":4},{"city":"南平","month":"21/07","value":-52},{"city":"南平","month":"21/06","value":-17},{"city":"南平","month":"21/05","value":-9},{"city":"南平","month":"21/04","value":-21},{"city":"南平","month":"21/03","value":-29},{"city":"南平","month":"21/02","value":163},{"city":"南平","month":"21/01","value":-51},{"city":"南平","month":"20/12","value":-2},{"city":"南平","month":"20/11","value":9},{"city":"南平","month":"20/10","value":-60},{"city":"南平","month":"20/09","value":-30},{"city":"南平","month":"20/08","value":-25},{"city":"南平","month":"20/07","value":177},{"city":"南平","month":"20/06","value":325},
{"city":"汕头","month":"21/04","value":281},{"city":"汕头","month":"21/03","value":32},{"city":"汕头","month":"21/02","value":96},{"city":"汕头","month":"21/01","value":168},{"city":"汕头","month":"20/10","value":-20},{"city":"汕头","month":"20/09","value":-95},
{"city":"柳州","month":"22/05","value":-44},{"city":"柳州","month":"22/04","value":-57},{"city":"柳州","month":"22/03","value":-47},{"city":"柳州","month":"22/02","value":-43},{"city":"柳州","month":"22/01","value":-12},{"city":"柳州","month":"21/12","value":-49},{"city":"柳州","month":"21/11","value":-23},{"city":"柳州","month":"21/10","value":-51},{"city":"柳州","month":"21/09","value":-40},{"city":"柳州","month":"21/08","value":-37},{"city":"柳州","month":"21/07","value":-31},{"city":"柳州","month":"21/06","value":-40},{"city":"柳州","month":"21/05","value":-45},{"city":"柳州","month":"21/04","value":-16},{"city":"柳州","month":"21/03","value":27},{"city":"柳州","month":"21/02","value":205},{"city":"柳州","month":"21/01","value":27},{"city":"柳州","month":"20/12","value":29},{"city":"柳州","month":"20/11","value":10},{"city":"柳州","month":"20/10","value":59},{"city":"柳州","month":"20/09","value":12},{"city":"柳州","month":"20/08","value":12},{"city":"柳州","month":"20/07","value":3},{"city":"柳州","month":"20/06","value":73},
{"city":"江门","month":"22/05","value":-26},{"city":"江门","month":"22/04","value":-18},{"city":"江门","month":"22/03","value":-5},{"city":"江门","month":"22/02","value":-4},{"city":"江门","month":"22/01","value":-33},{"city":"江门","month":"21/12","value":-21},{"city":"江门","month":"21/11","value":-39},{"city":"江门","month":"21/10","value":-53},{"city":"江门","month":"21/09","value":-43},{"city":"江门","month":"21/08","value":-28},{"city":"江门","month":"21/07","value":-39},{"city":"江门","month":"21/06","value":23},{"city":"江门","month":"21/05","value":18},{"city":"江门","month":"21/04","value":39},{"city":"江门","month":"21/03","value":55},{"city":"江门","month":"21/02","value":623},{"city":"江门","month":"21/01","value":203},{"city":"江门","month":"20/12","value":3},{"city":"江门","month":"20/11","value":31},{"city":"江门","month":"20/10","value":67},{"city":"江门","month":"20/09","value":43},{"city":"江门","month":"20/08","value":-25},{"city":"江门","month":"20/07","value":-23},{"city":"江门","month":"20/06","value":-5},
{"city":"肇庆","month":"22/05","value":133},{"city":"肇庆","month":"22/04","value":-55},{"city":"肇庆","month":"21/08","value":-41},{"city":"肇庆","month":"21/07","value":82},{"city":"肇庆","month":"21/06","value":-33},{"city":"肇庆","month":"21/05","value":66},{"city":"肇庆","month":"21/04","value":33},{"city":"肇庆","month":"21/03","value":443},{"city":"肇庆","month":"21/02","value":1362},{"city":"肇庆","month":"21/01","value":399},{"city":"肇庆","month":"20/12","value":-29},{"city":"肇庆","month":"20/11","value":25},{"city":"肇庆","month":"20/10","value":-26},{"city":"肇庆","month":"20/09","value":40},{"city":"肇庆","month":"20/08","value":-41},{"city":"肇庆","month":"20/07","value":-22},{"city":"肇庆","month":"20/06","value":-24},
{"city":"清远","month":"22/05","value":-29},{"city":"清远","month":"22/04","value":-22},{"city":"清远","month":"22/03","value":-20},{"city":"清远","month":"22/02","value":-5},{"city":"清远","month":"22/01","value":-16},{"city":"清远","month":"21/12","value":44},{"city":"清远","month":"21/11","value":-43},{"city":"清远","month":"21/10","value":-47},{"city":"清远","month":"21/09","value":-43},{"city":"清远","month":"21/08","value":-41},{"city":"清远","month":"21/07","value":-42},{"city":"清远","month":"21/06","value":-46},{"city":"清远","month":"21/05","value":-41},{"city":"清远","month":"21/04","value":-26},{"city":"清远","month":"21/03","value":24},{"city":"清远","month":"21/02","value":253},{"city":"清远","month":"21/01","value":60},{"city":"清远","month":"20/12","value":86},{"city":"清远","month":"20/11","value":-21},{"city":"清远","month":"20/10","value":24},{"city":"清远","month":"20/09","value":19},{"city":"清远","month":"20/08","value":6},{"city":"清远","month":"20/07","value":3},{"city":"清远","month":"20/06","value":-20},
{"city":"揭阳","month":"21/09","value":-95},{"city":"揭阳","month":"21/08","value":-33},{"city":"揭阳","month":"21/07","value":-41},{"city":"揭阳","month":"21/06","value":12},{"city":"揭阳","month":"21/05","value":-20},{"city":"揭阳","month":"21/04","value":-14},{"city":"揭阳","month":"21/03","value":25},{"city":"揭阳","month":"21/02","value":550},{"city":"揭阳","month":"21/01","value":4},{"city":"揭阳","month":"20/12","value":-3},{"city":"揭阳","month":"20/11","value":11},{"city":"揭阳","month":"20/10","value":-11},{"city":"揭阳","month":"20/09","value":-20},{"city":"揭阳","month":"20/08","value":35},{"city":"揭阳","month":"20/07","value":100},{"city":"揭阳","month":"20/06","value":32},
{"city":"襄阳","month":"22/05","value":3642},{"city":"襄阳","month":"22/04","value":242},{"city":"襄阳","month":"22/03","value":-43},{"city":"襄阳","month":"22/01","value":-59},{"city":"襄阳","month":"21/12","value":113},{"city":"襄阳","month":"21/10","value":-99},{"city":"襄阳","month":"21/09","value":-99},{"city":"襄阳","month":"21/08","value":-99},{"city":"襄阳","month":"21/06","value":-95},{"city":"襄阳","month":"21/05","value":-99},{"city":"襄阳","month":"21/04","value":-89},{"city":"襄阳","month":"21/03","value":-1},{"city":"襄阳","month":"21/01","value":-9},{"city":"襄阳","month":"20/12","value":-41},{"city":"襄阳","month":"20/11","value":41},{"city":"襄阳","month":"20/10","value":35},{"city":"襄阳","month":"20/09","value":24},{"city":"襄阳","month":"20/08","value":126},{"city":"襄阳","month":"20/07","value":-2},{"city":"襄阳","month":"20/06","value":39},
{"city":"江阴","month":"22/05","value":-88},{"city":"江阴","month":"22/04","value":-77},{"city":"江阴","month":"22/03","value":-74},{"city":"江阴","month":"22/02","value":-64},{"city":"江阴","month":"22/01","value":-68},{"city":"江阴","month":"21/12","value":-59},{"city":"江阴","month":"21/09","value":-89},{"city":"江阴","month":"21/08","value":-60},{"city":"江阴","month":"21/07","value":-42},{"city":"江阴","month":"21/06","value":-28},{"city":"江阴","month":"21/05","value":10},{"city":"江阴","month":"21/04","value":74},{"city":"江阴","month":"21/03","value":90},{"city":"江阴","month":"21/02","value":666},{"city":"江阴","month":"21/01","value":35},{"city":"江阴","month":"20/12","value":6},{"city":"江阴","month":"20/11","value":-37},{"city":"江阴","month":"20/10","value":-9},{"city":"江阴","month":"20/09","value":52},{"city":"江阴","month":"20/08","value":44},{"city":"江阴","month":"20/07","value":-19},{"city":"江阴","month":"20/06","value":-6},
{"city":"淮南","month":"22/02","value":-23},{"city":"淮南","month":"22/01","value":-37},{"city":"淮南","month":"21/12","value":7},{"city":"淮南","month":"21/11","value":-49},{"city":"淮南","month":"21/10","value":-27},{"city":"淮南","month":"21/09","value":1744},{"city":"淮南","month":"21/07","value":450},{"city":"淮南","month":"21/06","value":-24},{"city":"淮南","month":"21/05","value":30},{"city":"淮南","month":"21/04","value":-16},{"city":"淮南","month":"21/03","value":56},{"city":"淮南","month":"21/02","value":406},{"city":"淮南","month":"21/01","value":67},{"city":"淮南","month":"20/12","value":6},{"city":"淮南","month":"20/11","value":1},{"city":"淮南","month":"20/10","value":-2},{"city":"淮南","month":"20/09","value":-90},{"city":"淮南","month":"20/07","value":-86},{"city":"淮南","month":"20/06","value":1},
{"city":"东营","month":"22/05","value":-28},{"city":"东营","month":"22/04","value":-43},{"city":"东营","month":"22/03","value":-40},{"city":"东营","month":"22/02","value":-26},{"city":"东营","month":"22/01","value":-63},{"city":"东营","month":"21/12","value":-60},{"city":"东营","month":"21/11","value":-57},{"city":"东营","month":"21/10","value":-70},{"city":"东营","month":"21/09","value":-35},{"city":"东营","month":"21/08","value":-69},{"city":"东营","month":"21/07","value":-54},{"city":"东营","month":"21/06","value":-60},{"city":"东营","month":"21/05","value":-54},{"city":"东营","month":"21/04","value":-62},{"city":"东营","month":"21/03","value":-68},{"city":"东营","month":"21/02","value":556},{"city":"东营","month":"21/01","value":86},{"city":"东营","month":"20/12","value":189},{"city":"东营","month":"20/11","value":295},{"city":"东营","month":"20/10","value":212},{"city":"东营","month":"20/09","value":160},{"city":"东营","month":"20/08","value":195},{"city":"东营","month":"20/07","value":158},{"city":"东营","month":"20/06","value":250},
{"city":"滁州","month":"22/05","value":-59},{"city":"滁州","month":"22/04","value":-67},{"city":"滁州","month":"22/03","value":-73},{"city":"滁州","month":"22/02","value":-67},{"city":"滁州","month":"22/01","value":-60},{"city":"滁州","month":"21/12","value":-19},{"city":"滁州","month":"21/11","value":-33},{"city":"滁州","month":"21/10","value":-67},{"city":"滁州","month":"21/09","value":10},{"city":"滁州","month":"21/08","value":-20},{"city":"滁州","month":"21/07","value":-31},{"city":"滁州","month":"21/06","value":3},{"city":"滁州","month":"21/05","value":27},{"city":"滁州","month":"21/04","value":-4},{"city":"滁州","month":"21/03","value":65},{"city":"滁州","month":"21/02","value":178},{"city":"滁州","month":"21/01","value":42},{"city":"滁州","month":"20/12","value":-7},{"city":"滁州","month":"20/11","value":-1},{"city":"滁州","month":"20/10","value":-37},{"city":"滁州","month":"20/09","value":-54},{"city":"滁州","month":"20/08","value":-10},{"city":"滁州","month":"20/07","value":-35},{"city":"滁州","month":"20/06","value":-30},
{"city":"抚州","month":"22/05","value":-64},{"city":"抚州","month":"22/04","value":82},{"city":"抚州","month":"22/01","value":229},{"city":"抚州","month":"21/12","value":-60},{"city":"抚州","month":"21/11","value":-76},{"city":"抚州","month":"21/09","value":-42},{"city":"抚州","month":"21/08","value":-82},{"city":"抚州","month":"21/07","value":25},{"city":"抚州","month":"21/06","value":-81},{"city":"抚州","month":"21/05","value":-51},{"city":"抚州","month":"21/04","value":-89},{"city":"抚州","month":"21/01","value":-79},{"city":"抚州","month":"20/12","value":-28},{"city":"抚州","month":"20/11","value":21},{"city":"抚州","month":"20/10","value":-31},{"city":"抚州","month":"20/09","value":-53},{"city":"抚州","month":"20/08","value":100},{"city":"抚州","month":"20/07","value":-66},{"city":"抚州","month":"20/06","value":289},
{"city":"海门","month":"22/05","value":-55},{"city":"海门","month":"22/04","value":-75},{"city":"海门","month":"22/03","value":-89},{"city":"海门","month":"22/02","value":-65},{"city":"海门","month":"22/01","value":-79},{"city":"海门","month":"21/12","value":-82},{"city":"海门","month":"21/11","value":-67},{"city":"海门","month":"21/10","value":-26},{"city":"海门","month":"21/09","value":-88},{"city":"海门","month":"21/08","value":-94},{"city":"海门","month":"21/07","value":-93},{"city":"海门","month":"21/06","value":-90},{"city":"海门","month":"21/05","value":-79},{"city":"海门","month":"21/04","value":-59},{"city":"海门","month":"21/03","value":-4},{"city":"海门","month":"21/02","value":32},{"city":"海门","month":"21/01","value":152},{"city":"海门","month":"20/12","value":-9},{"city":"海门","month":"20/11","value":68},{"city":"海门","month":"20/10","value":15},{"city":"海门","month":"20/09","value":74},{"city":"海门","month":"20/08","value":148},{"city":"海门","month":"20/07","value":53},{"city":"海门","month":"20/06","value":70},
{"city":"宿州","month":"22/05","value":-76},{"city":"宿州","month":"22/04","value":-71},{"city":"宿州","month":"22/03","value":-57},{"city":"宿州","month":"22/02","value":-30},{"city":"宿州","month":"22/01","value":-60},{"city":"宿州","month":"21/12","value":-60},{"city":"宿州","month":"21/11","value":66},{"city":"宿州","month":"21/10","value":-42},{"city":"宿州","month":"21/09","value":9},{"city":"宿州","month":"21/08","value":-29},{"city":"宿州","month":"21/07","value":-16},{"city":"宿州","month":"21/06","value":-12},{"city":"宿州","month":"21/05","value":8},{"city":"宿州","month":"21/04","value":-11},{"city":"宿州","month":"21/03","value":16},{"city":"宿州","month":"21/02","value":403},{"city":"宿州","month":"21/01","value":111},{"city":"宿州","month":"20/12","value":38},{"city":"宿州","month":"20/11","value":4},{"city":"宿州","month":"20/10","value":41},{"city":"宿州","month":"20/09","value":89},{"city":"宿州","month":"20/08","value":27},{"city":"宿州","month":"20/07","value":6},{"city":"宿州","month":"20/06","value":26},
{"city":"衢州","month":"22/05","value":-73},{"city":"衢州","month":"22/04","value":-80},{"city":"衢州","month":"22/03","value":-91},{"city":"衢州","month":"22/02","value":-58},{"city":"衢州","month":"21/09","value":37},{"city":"衢州","month":"21/08","value":38},{"city":"衢州","month":"21/07","value":184},{"city":"衢州","month":"21/06","value":46},{"city":"衢州","month":"21/05","value":-20},{"city":"衢州","month":"21/04","value":12},{"city":"衢州","month":"21/03","value":111},{"city":"衢州","month":"21/02","value":202},{"city":"衢州","month":"21/01","value":7},{"city":"衢州","month":"20/12","value":-16},{"city":"衢州","month":"20/11","value":19},{"city":"衢州","month":"20/10","value":-11},{"city":"衢州","month":"20/09","value":-33},{"city":"衢州","month":"20/08","value":12},{"city":"衢州","month":"20/07","value":-63},
{"city":"新余","month":"22/03","value":-86},{"city":"新余","month":"22/02","value":-41},{"city":"新余","month":"22/01","value":-26},{"city":"新余","month":"21/12","value":-68},{"city":"新余","month":"21/10","value":-99},{"city":"新余","month":"21/03","value":44},{"city":"新余","month":"21/02","value":699},{"city":"新余","month":"21/01","value":-13},{"city":"新余","month":"20/12","value":-26},{"city":"新余","month":"20/10","value":-66},{"city":"新余","month":"20/09","value":-39},{"city":"新余","month":"20/08","value":-7},{"city":"新余","month":"20/07","value":-5},{"city":"新余","month":"20/06","value":-57},
{"city":"吉安","month":"22/05","value":-14},{"city":"吉安","month":"22/04","value":-26},{"city":"吉安","month":"22/03","value":-46},{"city":"吉安","month":"22/02","value":-11},{"city":"吉安","month":"22/01","value":-26},{"city":"吉安","month":"21/12","value":-52},{"city":"吉安","month":"21/11","value":-42},{"city":"吉安","month":"21/10","value":-67},{"city":"吉安","month":"21/09","value":-14},{"city":"吉安","month":"21/08","value":-44},{"city":"吉安","month":"21/07","value":-57},{"city":"吉安","month":"21/06","value":4},{"city":"吉安","month":"21/05","value":-6},{"city":"吉安","month":"21/04","value":-24},{"city":"吉安","month":"21/03","value":-1},{"city":"吉安","month":"21/02","value":266},{"city":"吉安","month":"21/01","value":78},{"city":"吉安","month":"20/12","value":0},{"city":"吉安","month":"20/11","value":-20},{"city":"吉安","month":"20/10","value":167},{"city":"吉安","month":"20/09","value":5},{"city":"吉安","month":"20/08","value":187},{"city":"吉安","month":"20/07","value":-5},{"city":"吉安","month":"20/06","value":55},
{"city":"韶关","month":"22/05","value":-5},{"city":"韶关","month":"22/04","value":49},{"city":"韶关","month":"22/03","value":-13},{"city":"韶关","month":"22/02","value":-16},{"city":"韶关","month":"22/01","value":-53},{"city":"韶关","month":"21/12","value":-70},{"city":"韶关","month":"21/11","value":-9},{"city":"韶关","month":"21/10","value":-22},{"city":"韶关","month":"21/09","value":-36},{"city":"韶关","month":"21/08","value":-35},{"city":"韶关","month":"21/07","value":-35},{"city":"韶关","month":"21/06","value":-36},{"city":"韶关","month":"21/05","value":-37},{"city":"韶关","month":"21/04","value":-10},{"city":"韶关","month":"21/03","value":-15},{"city":"韶关","month":"21/02","value":191},{"city":"韶关","month":"21/01","value":38},{"city":"韶关","month":"20/12","value":16},{"city":"韶关","month":"20/11","value":-17},{"city":"韶关","month":"20/10","value":28},{"city":"韶关","month":"20/09","value":30},{"city":"韶关","month":"20/08","value":-8},{"city":"韶关","month":"20/07","value":36},{"city":"韶关","month":"20/06","value":9},
{"city":"玉林","month":"22/03","value":-73},{"city":"玉林","month":"22/02","value":16},{"city":"玉林","month":"22/01","value":-24},{"city":"玉林","month":"21/12","value":-3},{"city":"玉林","month":"21/11","value":-28},{"city":"玉林","month":"21/10","value":-44},{"city":"玉林","month":"21/09","value":-41},{"city":"玉林","month":"21/08","value":-27},{"city":"玉林","month":"21/07","value":-49},{"city":"玉林","month":"21/06","value":-51},{"city":"玉林","month":"21/05","value":-30},{"city":"玉林","month":"21/04","value":-49},{"city":"玉林","month":"21/03","value":-19},{"city":"玉林","month":"21/02","value":98},{"city":"玉林","month":"21/01","value":-8},{"city":"玉林","month":"20/12","value":-68},{"city":"玉林","month":"20/11","value":-12},{"city":"玉林","month":"20/10","value":7},{"city":"玉林","month":"20/09","value":134},{"city":"玉林","month":"20/08","value":232},{"city":"玉林","month":"20/07","value":227},{"city":"玉林","month":"20/06","value":413},
{"city":"云浮","month":"22/05","value":3},{"city":"云浮","month":"22/04","value":48},{"city":"云浮","month":"22/03","value":-60},{"city":"云浮","month":"22/02","value":-75},{"city":"云浮","month":"22/01","value":59},{"city":"云浮","month":"21/12","value":-7},{"city":"云浮","month":"21/11","value":90},{"city":"云浮","month":"21/10","value":-39},{"city":"云浮","month":"21/09","value":1428},{"city":"云浮","month":"21/08","value":98},{"city":"云浮","month":"21/07","value":-25},{"city":"云浮","month":"21/06","value":217},{"city":"云浮","month":"21/05","value":-51},{"city":"云浮","month":"21/04","value":257},{"city":"云浮","month":"21/03","value":222},{"city":"云浮","month":"21/02","value":248},{"city":"云浮","month":"21/01","value":158},{"city":"云浮","month":"20/12","value":45},{"city":"云浮","month":"20/11","value":-31},{"city":"云浮","month":"20/10","value":-21},{"city":"云浮","month":"20/09","value":-4},{"city":"云浮","month":"20/08","value":680},{"city":"云浮","month":"20/07","value":88},{"city":"云浮","month":"20/06","value":1108},
{"city":"常德","month":"22/05","value":-46},{"city":"常德","month":"22/04","value":-42},{"city":"常德","month":"22/03","value":-63},{"city":"常德","month":"22/02","value":-54},{"city":"常德","month":"22/01","value":-66},{"city":"常德","month":"21/12","value":-34},{"city":"常德","month":"21/11","value":-33},{"city":"常德","month":"21/10","value":-36},{"city":"常德","month":"21/09","value":-36},{"city":"常德","month":"21/08","value":-40},{"city":"常德","month":"21/07","value":-37},{"city":"常德","month":"21/06","value":-37},{"city":"常德","month":"21/05","value":-27},{"city":"常德","month":"21/04","value":-30},{"city":"常德","month":"21/03","value":21},{"city":"常德","month":"21/02","value":273},{"city":"常德","month":"21/01","value":61},{"city":"常德","month":"20/12","value":3},{"city":"常德","month":"20/11","value":-44},{"city":"常德","month":"20/10","value":-37},{"city":"常德","month":"20/09","value":46},{"city":"常德","month":"20/08","value":27},{"city":"常德","month":"20/07","value":52},{"city":"常德","month":"20/06","value":-2},
{"city":"春风","month":"22/05","value":12},{"city":"春风","month":"22/04","value":43},{"city":"春风","month":"22/03","value":-25},{"city":"春风","month":"22/02","value":24},{"city":"春风","month":"22/01","value":-61},{"city":"春风","month":"21/12","value":-72},{"city":"春风","month":"21/11","value":-45},{"city":"春风","month":"21/10","value":-5},{"city":"春风","month":"21/09","value":-4},{"city":"春风","month":"21/08","value":85},{"city":"春风","month":"21/07","value":10},{"city":"春风","month":"21/06","value":-54},{"city":"春风","month":"21/05","value":-39},{"city":"春风","month":"21/04","value":2},{"city":"春风","month":"21/03","value":127},{"city":"春风","month":"21/02","value":890},{"city":"春风","month":"21/01","value":182},{"city":"春风","month":"20/12","value":494},{"city":"春风","month":"20/11","value":56},{"city":"春风","month":"20/10","value":146},{"city":"春风","month":"20/09","value":-18},{"city":"春风","month":"20/08","value":-14},{"city":"春风","month":"20/07","value":89},{"city":"春风","month":"20/06","value":106},
{"city":"荆门","month":"22/05","value":21},{"city":"荆门","month":"22/04","value":-45},{"city":"荆门","month":"22/03","value":61},{"city":"荆门","month":"22/02","value":-44},{"city":"荆门","month":"22/01","value":394},{"city":"荆门","month":"21/12","value":-38},{"city":"荆门","month":"21/11","value":156},{"city":"荆门","month":"21/10","value":64},{"city":"荆门","month":"21/09","value":-58},{"city":"荆门","month":"21/08","value":-95},{"city":"荆门","month":"21/07","value":193},{"city":"荆门","month":"21/06","value":150},{"city":"荆门","month":"21/05","value":30},{"city":"荆门","month":"21/04","value":93},{"city":"荆门","month":"21/03","value":2020},{"city":"荆门","month":"21/01","value":-24},{"city":"荆门","month":"20/12","value":-52},{"city":"荆门","month":"20/11","value":133},{"city":"荆门","month":"20/10","value":-68},{"city":"荆门","month":"20/09","value":-17},{"city":"荆门","month":"20/08","value":38},{"city":"荆门","month":"20/07","value":-36},{"city":"荆门","month":"20/06","value":-23},
{"city":"宜昌","month":"22/05","value":-40},{"city":"宜昌","month":"22/04","value":-49},{"city":"宜昌","month":"22/03","value":-68},{"city":"宜昌","month":"22/02","value":39},{"city":"宜昌","month":"22/01","value":-53},{"city":"宜昌","month":"21/12","value":-39},{"city":"宜昌","month":"21/11","value":-35},{"city":"宜昌","month":"21/10","value":-63},{"city":"宜昌","month":"21/09","value":-16},{"city":"宜昌","month":"21/08","value":-17},{"city":"宜昌","month":"21/07","value":-46},{"city":"宜昌","month":"21/06","value":-20},{"city":"宜昌","month":"21/05","value":-17},{"city":"宜昌","month":"21/04","value":-30},{"city":"宜昌","month":"20/12","value":211},{"city":"宜昌","month":"20/11","value":-39},{"city":"宜昌","month":"20/10","value":19},{"city":"宜昌","month":"20/09","value":45},{"city":"宜昌","month":"20/08","value":-18},{"city":"宜昌","month":"20/07","value":40},{"city":"宜昌","month":"20/06","value":376},
{"city":"六盘水","month":"22/05","value":-12},{"city":"六盘水","month":"22/04","value":-21},{"city":"六盘水","month":"22/03","value":74},{"city":"六盘水","month":"22/02","value":-51},{"city":"六盘水","month":"22/01","value":-71},{"city":"六盘水","month":"21/12","value":-32},{"city":"六盘水","month":"21/11","value":10},{"city":"六盘水","month":"21/10","value":140},{"city":"六盘水","month":"21/09","value":-67},{"city":"六盘水","month":"21/08","value":-27},{"city":"六盘水","month":"21/07","value":-44},{"city":"六盘水","month":"21/06","value":-19},{"city":"六盘水","month":"21/05","value":-54},{"city":"六盘水","month":"21/04","value":-21},{"city":"六盘水","month":"21/03","value":26},{"city":"六盘水","month":"21/02","value":1818},{"city":"六盘水","month":"21/01","value":22},{"city":"六盘水","month":"20/12","value":-52},{"city":"六盘水","month":"20/11","value":-43},{"city":"六盘水","month":"20/10","value":3},{"city":"六盘水","month":"20/09","value":68},{"city":"六盘水","month":"20/08","value":-7},{"city":"六盘水","month":"20/07","value":-18},{"city":"六盘水","month":"20/06","value":229}]},
"vconcat":[{"width":552,"height":87,"resolve":{"scale":{"x":"independent"}},"encoding":{"y":{"field":"part","type":"ordinal","axis":null,"scale":{"type":"point","padding":0,"domain":["logo","report","rule-orange","gap","figure","rule-peach"],"range":[41,88]}}},"layer":[{"data":{"values":[{"part":"rule-orange"}]},"mark":{"type":"rule","color":"#f0851c","strokeWidth":1.5},"encoding":{"x":{"datum":"from","scale":{"type":"point","padding":0,"domain":["from","to"],"range":[-38,553]},"axis":null},"x2":{"datum":"to"}}},{"data":{"values":[{"part":"rule-peach"}]},"mark":{"type":"rule","color":"#fbcba3","strokeWidth":2},"encoding":{"x":{"datum":"from","scale":{"type":"point","padding":0,"domain":["from","to"],"range":[-43,567]},"axis":null},"x2":{"datum":"to"}}},{"data":{"values":[{"part":"report","label":"行业报告 | 行业专题研究"}]},"mark":{"type":"text","align":"left","baseline":"middle","fontSize":11.5,"fontWeight":"bold","color":"#777777"},"encoding":{"text":{"field":"label"},"x":{"datum":"from","scale":{"type":"point","padding":0,"domain":["from","to"],"range":[-38,553]},"axis":null}}},{"data":{"values":[{"part":"figure","label":"图 5:商品房成交面积热力图"}]},"mark":{"type":"text","align":"left","baseline":"middle","fontSize":10,"fontWeight":"bold","color":"#555555"},"encoding":{"text":{"field":"label"},"x":{"datum":"from","scale":{"type":"point","padding":0,"domain":["from","to"],"range":[-36,553]},"axis":null}}},{"data":{"values":[{"part":"logo"}]},"mark":{"type":"point","size":1600,"color":"#a0153e","shape":"M0.1 -0.85C0.25 -0.6 0.22 -0.35 0.05 -0.2C-0.1 -0.4 -0.08 -0.65 0.1 -0.85ZM0.15 0.3C0.4 0.35 0.65 0.5 0.62 0.8C0.35 0.85 0.1 0.65 0.15 0.3Z"},"encoding":{"x":{"datum":"from","scale":{"type":"point","padding":0,"domain":["from","to"],"range":[492,553]},"axis":null}}},{"data":{"values":[{"part":"logo"}]},"mark":{"type":"point","size":1600,"color":"#4a4a4a","shape":"M-0.65 -0.5C-0.4 -0.5 -0.1 -0.2 -0.15 0.05C-0.45 0.05 -0.65 -0.2 -0.65 -0.5ZM-0.05 0.35C0.05 0.7 -0.2 1.05 -0.5 1.05C-0.75 0.8 -0.55 0.4 -0.05 0.35Z"},"encoding":{"x":{"datum":"from","scale":{"type":"point","padding":0,"domain":["from","to"],"range":[492,553]},"axis":null}}},{"data":{"values":[{"part":"logo"}]},"mark":{"type":"point","size":1600,"color":"#f08300","shape":"M1 -0.55C1.05 -0.1 0.6 0.3 0.15 0.35C0.1 -0.1 0.5 -0.5 1 -0.55ZM-0.6 0.3C-0.45 0.1 -0.2 0.02 -0.05 0.08C-0.15 0.28 -0.4 0.35 -0.6 0.3Z"},"encoding":{"x":{"datum":"from","scale":{"type":"point","padding":0,"domain":["from","to"],"range":[492,553]},"axis":null}}},{"data":{"values":[{"part":"logo","label":"天风证券"}]},"mark":{"type":"text","align":"left","baseline":"middle","fontSize":15,"fontWeight":"bold","color":"#333333","dy":2},"encoding":{"text":{"field":"label"},"x":{"datum":"from","scale":{"type":"point","padding":0,"domain":["from","to"],"range":[514,600]},"axis":null}}},{"data":{"values":[{"part":"report","label":"TF SECURITIES"}]},"mark":{"type":"text","align":"left","baseline":"middle","fontSize":5.5,"color":"#444444","dy":5},"encoding":{"text":{"field":"label"},"x":{"datum":"from","scale":{"type":"point","padding":0,"domain":["from","to"],"range":[516,600]},"axis":null}}}]},
{"width":552,"height":45.85,"encoding":{"x":{"field":"month","type":"ordinal","axis":null,"sort":null,"scale":{"paddingInner":0,"paddingOuter":0,"domain":["22/05","22/04","22/03","22/02","22/01","21/12","21/11","21/10","21/09","21/08","21/07","21/06","21/05","21/04","21/03","21/02","21/01","20/12","20/11","20/10","20/09","20/08","20/07","20/06"]}},"y":{"field":"city","type":"ordinal","axis":{"domain":false,"labelExpr":"datum.label=='月份'?'':datum.label","tickSize":36,"tickWidth":9.3,"tickColor":"#9a1238","labelPadding":-18,"labelAlign":"center","labelColor":"white","labelFont":"Noto Sans CJK SC","labelFontSize":5.5,"labelFontWeight":"bold"},"scale":{"paddingInner":0,"paddingOuter":0,"domain":["月份","全部城市","一线城市","二线城市","三线及以下"]}}},"layer":[{"data":{"name":"months"},"mark":{"type":"rect","color":"#434343"},"encoding":{"y":{"datum":"月份"}}},{"data":{"name":"months"},"mark":{"type":"text","color":"#dddddd","fontSize":5.5,"fontWeight":"bold","font":"Liberation Sans"},"encoding":{"y":{"datum":"月份"},"text":{"field":"month"}}},{"data":{"name":"g1"},"mark":"rect","encoding":{"color":{"field":"value","type":"quantitative","legend":null,"scale":{"domain":[-100,0,200],"range":["#4f7d35","#ffffff","#f57f17"],"clamp":true,"interpolate":"rgb"}}}},{"data":{"name":"g1"},"mark":{"type":"text","color":"#333333","fontSize":5.5,"font":"Liberation Sans"},"encoding":{"text":{"field":"value"}}}]},
{"width":552,"height":36.68,"data":{"name":"g2"},"encoding":{"x":{"field":"month","type":"ordinal","axis":null,"sort":null,"scale":{"paddingInner":0,"paddingOuter":0,"domain":["22/05","22/04","22/03","22/02","22/01","21/12","21/11","21/10","21/09","21/08","21/07","21/06","21/05","21/04","21/03","21/02","21/01","20/12","20/11","20/10","20/09","20/08","20/07","20/06"]}},"y":{"field":"city","type":"ordinal","axis":{"domain":false,"tickSize":36,"tickWidth":9.3,"tickColor":"#9a1238","labelPadding":-18,"labelAlign":"center","labelColor":"white","labelFont":"Noto Sans CJK SC","labelFontSize":5.5,"labelFontWeight":"bold"},"scale":{"paddingInner":0,"paddingOuter":0,"domain":["北京","上海","广州","深圳"]}}},"layer":[{"mark":"rect","encoding":{"color":{"field":"value","type":"quantitative","legend":null,"scale":{"domain":[-100,0,200],"range":["#4f7d35","#ffffff","#f57f17"],"clamp":true,"interpolate":"rgb"}}}},{"mark":{"type":"text","color":"#333333","fontSize":5.5,"font":"Liberation Sans"},"encoding":{"text":{"field":"value"}}}]},
{"width":552,"height":220.08,"data":{"name":"g3"},"encoding":{"x":{"field":"month","type":"ordinal","axis":null,"sort":null,"scale":{"paddingInner":0,"paddingOuter":0,"domain":["22/05","22/04","22/03","22/02","22/01","21/12","21/11","21/10","21/09","21/08","21/07","21/06","21/05","21/04","21/03","21/02","21/01","20/12","20/11","20/10","20/09","20/08","20/07","20/06"]}},"y":{"field":"city","type":"ordinal","axis":{"domain":false,"tickSize":36,"tickWidth":9.3,"tickColor":"#9a1238","labelPadding":-18,"labelAlign":"center","labelColor":"white","labelFont":"Noto Sans CJK SC","labelFontSize":5.5,"labelFontWeight":"bold"},"scale":{"paddingInner":0,"paddingOuter":0,"domain":["长春","杭州","南京","青岛","苏州","郑州","厦门","无锡","济南","温州","宁波","福州","嘉兴","金华","泉州","常州","绍兴","南宁","东莞","惠州","佛山","珠海","武汉","成都"]}}},"layer":[{"mark":"rect","encoding":{"color":{"field":"value","type":"quantitative","legend":null,"scale":{"domain":[-100,0,200],"range":["#4f7d35","#ffffff","#f57f17"],"clamp":true,"interpolate":"rgb"}}}},{"mark":{"type":"text","color":"#333333","fontSize":5.5,"font":"Liberation Sans"},"encoding":{"text":{"field":"value"}}}]},
{"width":552,"height":339.29,"data":{"name":"g4"},"encoding":{"x":{"field":"month","type":"ordinal","axis":null,"sort":null,"scale":{"paddingInner":0,"paddingOuter":0,"domain":["22/05","22/04","22/03","22/02","22/01","21/12","21/11","21/10","21/09","21/08","21/07","21/06","21/05","21/04","21/03","21/02","21/01","20/12","20/11","20/10","20/09","20/08","20/07","20/06"]}},"y":{"field":"city","type":"ordinal","axis":{"domain":false,"tickSize":36,"tickWidth":9.3,"tickColor":"#9a1238","labelPadding":-18,"labelAlign":"center","labelColor":"white","labelFont":"Noto Sans CJK SC","labelFontSize":5.5,"labelFontWeight":"bold"},"scale":{"paddingInner":0,"paddingOuter":0,"domain":["赣州","淮安","连云港","泰州","镇江","莆田","泰安","芜湖","盐城","舟山","龙岩","南平","汕头","柳州","江门","肇庆","清远","揭阳","襄阳","江阴","淮南","东营","滁州","抚州","海门","宿州","衢州","新余","吉安","韶关","玉林","云浮","常德","春风","荆门","宜昌","六盘水"]}}},"layer":[{"mark":"rect","encoding":{"color":{"field":"value","type":"quantitative","legend":null,"scale":{"domain":[-100,0,200],"range":["#4f7d35","#ffffff","#f57f17"],"clamp":true,"interpolate":"rgb"}}}},{"mark":{"type":"text","color":"#333333","fontSize":5.5,"font":"Liberation Sans"},"encoding":{"text":{"field":"value"}}}]},
{"width":552,"height":30,"encoding":{"y":{"field":"part","type":"ordinal","axis":null,"scale":{"type":"point","padding":0,"domain":["rule-peach","note","gap","source"],"range":[-3.4,26.3]}}},"resolve":{"scale":{"x":"independent"}},"layer":[{"data":{"values":[{"part":"rule-peach"}]},"mark":{"type":"rule","color":"#fbcba3","strokeWidth":2},"encoding":{"x":{"datum":"from","scale":{"type":"point","padding":0,"domain":["from","to"],"range":[-43,567]},"axis":null},"x2":{"datum":"to"}}},{"data":{"values":[{"part":"note","label":"热力图使用高频商品房成交面积计算,单位为:%"},{"part":"source","label":"资料来源:wind,天风证券研究所"}]},"mark":{"type":"text","align":"left","baseline":"middle","fontSize":8.3,"color":"#555555"},"encoding":{"text":{"field":"label"},"x":{"datum":"from","scale":{"type":"point","padding":0,"domain":["from","to"],"range":[-37,553]},"axis":null}}}]},
{"width":552,"height":225,"encoding":{"y":{"field":"part","type":"ordinal","axis":null,"scale":{"type":"point","padding":0,"domain":["rule","disclaimer"],"range":[198.3,209.3]}}},"resolve":{"scale":{"x":"independent"}},"layer":[{"data":{"values":[{"part":"rule"}]},"mark":{"type":"rule","color":"#f39a12","strokeWidth":1.5},"encoding":{"x":{"datum":"from","scale":{"type":"point","padding":0,"domain":["from","to"],"range":[-38,573]},"axis":null},"x2":{"datum":"to"}}},{"data":{"values":[{"part":"disclaimer","label":"请务必阅读正文之后的信息披露和免责申明"}]},"mark":{"type":"text","align":"left","baseline":"middle","fontSize":11,"color":"#444444"},"encoding":{"text":{"field":"label"},"x":{"datum":"from","scale":{"type":"point","padding":0,"domain":["from","to"],"range":[-2,573]},"axis":null}}},{"data":{"values":[{"part":"disclaimer","label":"4"}]},"mark":{"type":"text","align":"left","baseline":"middle","fontSize":10,"color":"#444444"},"encoding":{"text":{"field":"label"},"x":{"datum":"from","scale":{"type":"point","padding":0,"domain":["from","to"],"range":[565,600]},"axis":null}}}]}]}
